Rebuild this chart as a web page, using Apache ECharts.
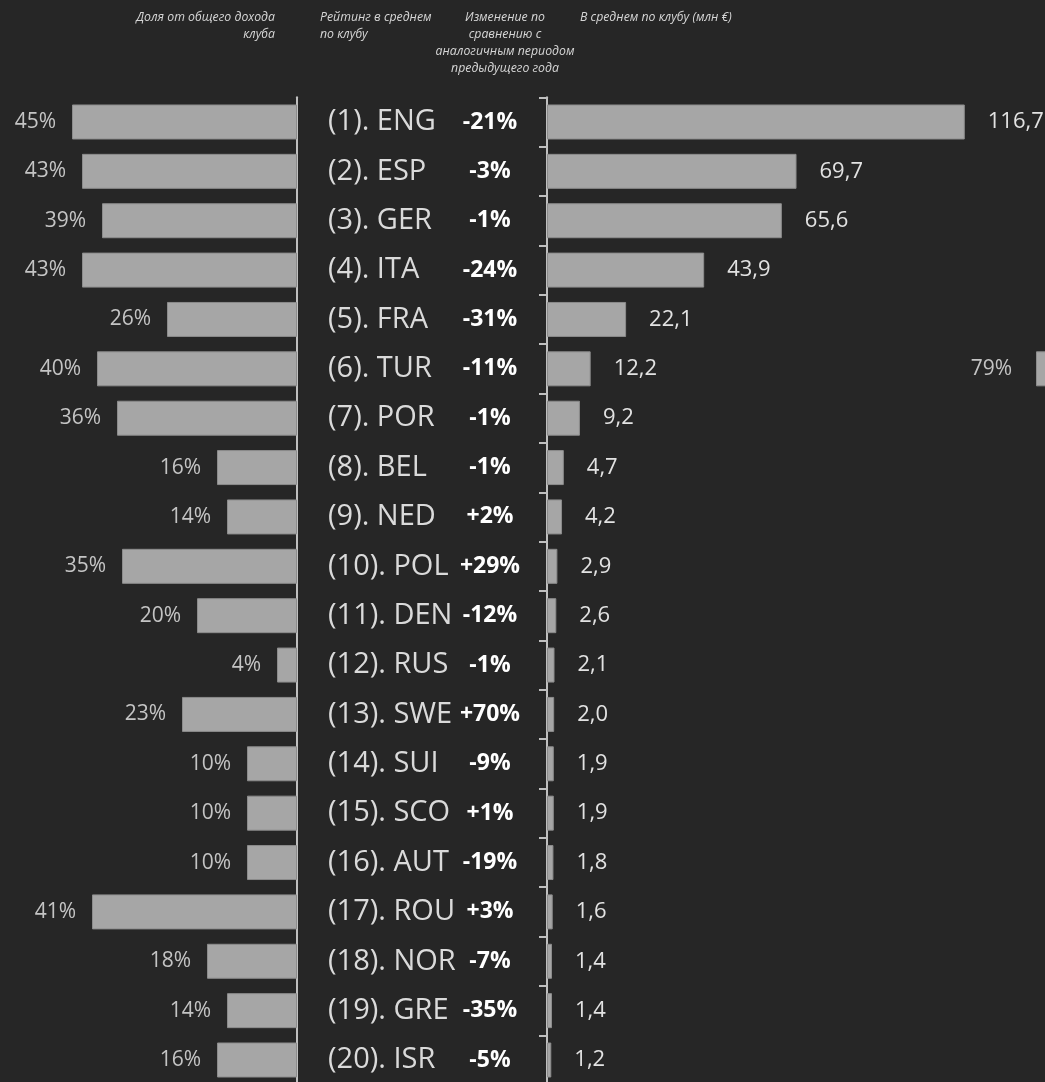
<!DOCTYPE html>
<html><head><meta charset="utf-8">
<script src="https://cdn.jsdelivr.net/npm/echarts@6/dist/echarts.min.js"></script>
<style>html,body{margin:0;padding:0;background:#262626}#c{width:1045px;height:1082px}</style>
</head><body><div id="c"></div>
<script>
// ---- data ----
const countries = ['ENG','ESP','GER','ITA','FRA','TUR','POR','BEL','NED','POL','DEN','RUS','SWE','SUI','SCO','AUT','ROU','NOR','GRE','ISR'];
const shareOfIncome = [45,43,39,43,26,40,36,16,14,35,20,4,23,10,10,10,41,18,14,16];
const yoyChange = [-21,-3,-1,-24,-31,-11,-1,-1,2,29,-12,-1,70,-9,1,-19,3,-7,-35,-5];
const avgPerClub = [116.7,69.7,65.6,43.9,22.1,12.2,9.2,4.7,4.2,2.9,2.6,2.1,2.0,1.9,1.9,1.8,1.6,1.4,1.4,1.2];
// partially visible neighbouring panel cut off at the right edge
const edgePanelShare = [null,null,null,null,null,79,null,null,null,null,null,null,null,null,null,null,null,null,null,null];
const headerShare = 'Доля от общего дохода\nклуба';
const headerRank = 'Рейтинг в среднем\nпо клубу';
const headerChange = 'Изменение по\nсравнению с\nаналогичным периодом\nпредыдущего года';
const headerAvg = 'В среднем по клубу (млн €)';

const FONT = '"Open Sans", "Noto Sans", sans-serif';
const barStyle = {color:'#a6a6a6', borderColor:'#8c8c8c', borderWidth:1};
const axisLineStyle = {color:'#bfbfbf', width:2};
const gridTop = 97.3, gridH = 987.4;

const chart = echarts.init(document.getElementById('c'), null, {renderer:'canvas'});
const hdr = (text, x, align) => ({type:'text', x:x, y:9, style:{text:text, align:align, verticalAlign:'top',
  fill:'#d6d6d6', font:'italic 12.3px ' + FONT, lineHeight:17}});
chart.setOption({
  backgroundColor:'#262626',
  animation:false,
  textStyle:{fontFamily:FONT},
  graphic:[
    hdr(headerShare, 275, 'right'),
    hdr(headerRank, 320, 'left'),
    hdr(headerChange, 505, 'center'),
    hdr(headerAvg, 580, 'left')
  ],
  grid:[
    {left:47, width:250, top:gridTop, height:gridH, outerBoundsMode:'none', containLabel:false},
    {left:547, width:465.4, top:gridTop, height:gridH, outerBoundsMode:'none', containLabel:false},
    {left:931, width:500, top:gridTop, height:gridH, outerBoundsMode:'none', containLabel:false}
  ],
  xAxis:[
    {gridIndex:0, type:'value', inverse:true, min:0, max:50, show:false},
    {gridIndex:1, type:'value', min:0, max:130, show:false},
    {gridIndex:2, type:'value', inverse:true, min:0, max:100, show:false}
  ],
  yAxis:[
    {gridIndex:0, type:'category', data:countries, inverse:true, position:'right',
      axisLine:{show:true, lineStyle:axisLineStyle}, axisTick:{show:false}, splitLine:{show:false},
      axisLabel:{interval:0, margin:31, align:'left', color:'#dadada', fontSize:29, fontFamily:FONT,
        lineHeight:34, padding:[4,0,0,0],
        formatter:(v,i)=>'(' + (i+1) + '). ' + v}},
    {gridIndex:1, type:'category', data:countries, inverse:true, position:'left',
      axisLine:{show:true, lineStyle:axisLineStyle},
      axisTick:{show:true, length:8, interval:0, lineStyle:axisLineStyle}, splitLine:{show:false},
      axisLabel:{interval:0, margin:57, align:'center', color:'#ffffff', fontSize:23, fontWeight:'bold', fontFamily:FONT,
        formatter:(v,i)=>(yoyChange[i] > 0 ? '+' : '') + yoyChange[i] + '%'}},
    {gridIndex:2, type:'category', data:countries, inverse:true, show:false}
  ],
  series:[
    {type:'bar', xAxisIndex:0, yAxisIndex:0, data:shareOfIncome, barWidth:35, itemStyle:barStyle,
      label:{show:true, position:'left', distance:16, color:'#c4c4c4', fontSize:21, fontFamily:FONT, formatter:'{c}%'}},
    {type:'bar', xAxisIndex:1, yAxisIndex:1, data:avgPerClub, barWidth:35, itemStyle:barStyle,
      label:{show:true, position:'right', distance:23, color:'#e2e2e2', fontSize:22, fontFamily:FONT,
        formatter:p=>p.value.toFixed(1).replace('.', ',')}},
    {type:'bar', xAxisIndex:2, yAxisIndex:2, data:edgePanelShare, barWidth:35, itemStyle:barStyle, clip:true,
      label:{show:true, position:'left', distance:24, color:'#c4c4c4', fontSize:21, fontFamily:FONT,
        formatter:p=>p.value == null ? '' : p.value + '%'}}
  ]
});
</script></body></html>
